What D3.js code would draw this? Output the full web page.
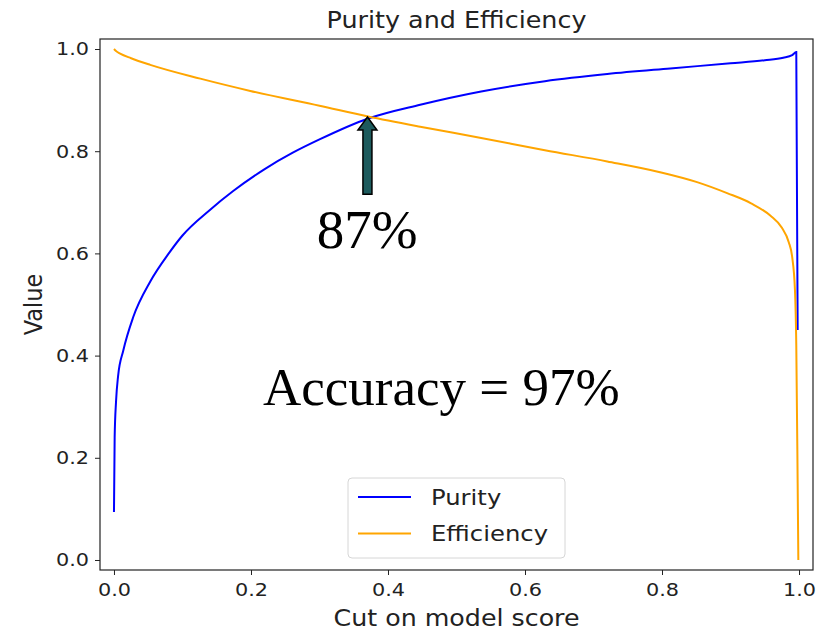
<!DOCTYPE html>
<meta charset="utf-8">
<style>
  body { margin: 0; background: #fff; }
  text { font-family: "DejaVu Sans", sans-serif; fill: #222; }
  .note { font-family: "Liberation Serif", "Times New Roman", serif; fill: #000; }
</style>
<svg width="820" height="634"></svg>
<script src="https://cdnjs.cloudflare.com/ajax/libs/d3/7.8.5/d3.min.js"></script>
<script>
// purity curve (cut on score -> value)
var purityX = [0, 0.001, 0.003, 0.006, 0.0136, 0.028, 0.053, 0.08, 0.10, 0.14, 0.174, 0.22, 0.261, 0.30, 0.371, 0.447, 0.536, 0.629, 0.72, 0.812, 0.90, 0.95, 0.977, 0.99, 0.996, 0.998];
var purityY = [0.094, 0.24, 0.31, 0.36, 0.41, 0.475, 0.545, 0.60, 0.635, 0.685, 0.722, 0.765, 0.797, 0.823, 0.864, 0.891, 0.917, 0.937, 0.951, 0.962, 0.972, 0.978, 0.983, 0.988, 0.994, 0.45];

// efficiency curve
var effX = [0, 0.003, 0.009, 0.025, 0.053, 0.126, 0.199, 0.30, 0.371, 0.447, 0.536, 0.629, 0.72, 0.797, 0.85, 0.895, 0.93, 0.958, 0.975, 0.985, 0.99, 0.994, 0.996, 0.998, 0.999];
var effY = [1.0, 0.996, 0.991, 0.982, 0.969, 0.942, 0.918, 0.889, 0.868, 0.848, 0.826, 0.802, 0.780, 0.759, 0.740, 0.718, 0.698, 0.674, 0.650, 0.622, 0.593, 0.53, 0.42, 0.15, 0.0];

var xTicks = [0, 0.2, 0.4, 0.6, 0.8, 1.0];
var yTicks = [0, 0.2, 0.4, 0.6, 0.8, 1.0];
var seriesNames = ["Purity", "Efficiency"];
var seriesColors = ["blue", "orange"];

// crossing point + overlay texts
var crossing = [0.37, 0.867];
var arrowTail = 0.716;
var crossLabel = {text: "87%", x: 0.296, y: 0.61};
var accLabel = {text: "Accuracy = 97%", x: 0.2175, y: 0.303};

var svg = d3.select("svg"),
    pLeft = 100, pRight = 813, pTop = 39, pBottom = 570,
    stretch = 1.13;   // the picture is a bit wider than tall

var x = d3.scaleLinear().domain([-0.0204, 1.0204]).range([pLeft, pRight]);
var y = d3.scaleLinear().domain([-0.0196, 1.0196]).range([pBottom, pTop]);

// axes
var xAxis = svg.append("g")
    .attr("transform", "translate(0," + pBottom + ")")
    .call(d3.axisBottom(x).tickValues(xTicks).tickFormat(d3.format(".1f")).tickSize(5).tickPadding(4));
var yAxis = svg.append("g")
    .attr("transform", "translate(" + pLeft + ",0)")
    .call(d3.axisLeft(y).tickValues(yTicks).tickFormat(d3.format(".1f")).tickSize(5).tickPadding(4));

[xAxis, yAxis].forEach(function(a) {
  a.select(".domain").remove();
  a.selectAll("line").attr("stroke", "#222").attr("stroke-width", 1);
  a.selectAll("text")
    .style("font-family", "'DejaVu Sans', sans-serif")
    .style("font-size", "18.4px")
    .attr("fill", "#222");
});
xAxis.selectAll("text").attr("dy", "0.95em").attr("transform", "scale(" + stretch + ",1)");
yAxis.selectAll("text").attr("x", -11 / stretch).attr("transform", "scale(" + stretch + ",1)");

// box
svg.append("rect")
    .attr("x", pLeft).attr("y", pTop)
    .attr("width", pRight - pLeft).attr("height", pBottom - pTop)
    .attr("fill", "none").attr("stroke", "#222").attr("stroke-width", 1.2);

// lines
var line = d3.line()
    .x(function(d) { return x(d[0]); })
    .y(function(d) { return y(d[1]); })
    .curve(d3.curveMonotoneX);

var series = [d3.zip(purityX, purityY), d3.zip(effX, effY)];
series.forEach(function(s, i) {
  svg.append("path")
      .datum(s)
      .attr("d", line)
      .attr("fill", "none")
      .attr("stroke", seriesColors[i])
      .attr("stroke-width", 2);
});

// title and axis labels
function stretchedText(px, py, str, size, rot) {
  return svg.append("text")
      .attr("transform", "translate(" + px + "," + py + ") scale(" + stretch + ",1)" + (rot ? " rotate(" + rot + ")" : ""))
      .attr("text-anchor", "middle")
      .style("font-size", size + "px")
      .text(str);
}
stretchedText((pLeft + pRight) / 2, 28, "Purity and Efficiency", 22.5);
stretchedText((pLeft + pRight) / 2, 626, "Cut on model score", 22.4);
stretchedText(42, (pTop + pBottom) / 2, "Value", 22.4, -90);

// arrow pointing at the crossing
var tx = x(crossing[0]), ty = y(crossing[1]), by = y(arrowTail);
var arrow = d3.path();
arrow.moveTo(tx, ty);
arrow.lineTo(tx + 9.5, ty + 13);
arrow.lineTo(tx + 4.5, ty + 13);
arrow.lineTo(tx + 4.5, by);
arrow.lineTo(tx - 4.5, by);
arrow.lineTo(tx - 4.5, ty + 13);
arrow.lineTo(tx - 9.5, ty + 13);
arrow.closePath();
svg.append("path")
    .attr("d", arrow.toString())
    .attr("fill", "#1d5b5d")
    .attr("stroke", "#000")
    .attr("stroke-width", 1.5)
    .attr("stroke-linejoin", "miter");

svg.append("text").attr("class", "note")
    .attr("x", x(crossLabel.x)).attr("y", y(crossLabel.y))
    .style("font-size", "55px")
    .text(crossLabel.text);
svg.append("text").attr("class", "note")
    .attr("x", x(accLabel.x)).attr("y", y(accLabel.y))
    .style("font-size", "53px")
    .text(accLabel.text);

// legend
var legend = svg.append("g").attr("transform", "translate(348,478)");
legend.append("rect")
    .attr("width", 217).attr("height", 80)
    .attr("rx", 4)
    .attr("fill", "#fff").attr("fill-opacity", 0.8)
    .attr("stroke", "#d6d6d6").attr("stroke-width", 1);
seriesNames.forEach(function(name, i) {
  var g = legend.append("g").attr("transform", "translate(0," + (19 + i * 36.5) + ")");
  g.append("line")
      .attr("x1", 10).attr("x2", 63)
      .attr("stroke", seriesColors[i]).attr("stroke-width", 2);
  g.append("text")
      .attr("transform", "translate(83,0) scale(" + stretch + ",1)")
      .attr("dy", "0.35em")
      .style("font-size", "21.5px")
      .text(name);
});
</script>
